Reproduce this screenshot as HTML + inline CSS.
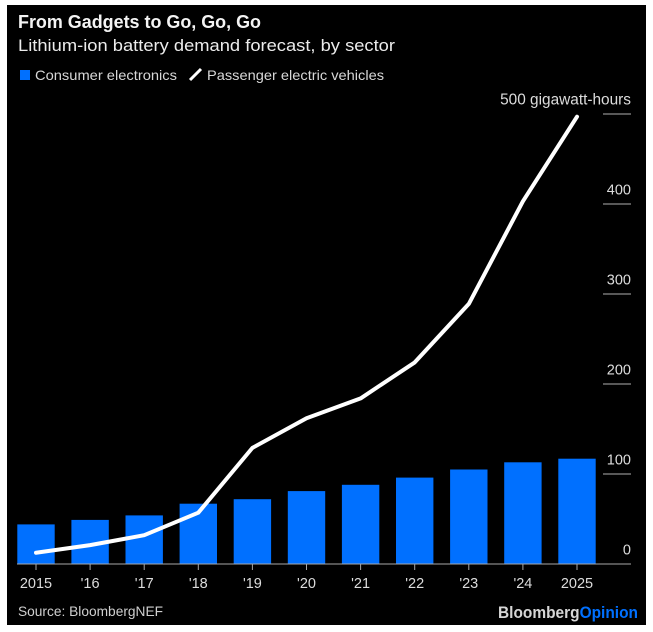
<!DOCTYPE html>
<html lang="en">
<head>
<meta charset="utf-8">
<title>From Gadgets to Go, Go, Go</title>
<style>
html,body{margin:0;padding:0;background:#fff;width:653px;height:632px;overflow:hidden}
svg{display:block;font-family:"Liberation Sans",Arial,sans-serif}
</style>
</head>
<body>
<svg id="chart" width="653" height="632" viewBox="0 0 653 632" xmlns="http://www.w3.org/2000/svg">
  <rect x="7" y="5" width="639" height="620" fill="#000"/>
  <text x="18" y="28" font-size="18" font-weight="700" fill="#f4f4f4" textLength="243" lengthAdjust="spacingAndGlyphs">From Gadgets to Go, Go, Go</text>
  <text x="18" y="51" font-size="17" fill="#ececec" textLength="377" lengthAdjust="spacingAndGlyphs">Lithium-ion battery demand forecast, by sector</text>
  <rect x="20" y="70" width="10" height="10" fill="#0070ff"/>
  <text x="35" y="80" font-size="14" fill="#d8d8d8" textLength="142" lengthAdjust="spacingAndGlyphs">Consumer electronics</text>
  <line x1="190" y1="80" x2="201" y2="69" stroke="#fff" stroke-width="3"/>
  <text x="207" y="80" font-size="14" fill="#d8d8d8" textLength="177" lengthAdjust="spacingAndGlyphs">Passenger electric vehicles</text>
  <g id="grid"></g>
  <g id="bars"></g>
  <g id="xaxis"></g>
  <path id="evline" fill="none" stroke="#fff" stroke-width="4" stroke-linejoin="round" stroke-linecap="round"/>
  <text x="18" y="616" font-size="14" fill="#cfcfcf" textLength="145" lengthAdjust="spacingAndGlyphs">Source: BloombergNEF</text>
  <text x="498" y="618" font-size="17" font-weight="700" textLength="140" lengthAdjust="spacingAndGlyphs"><tspan fill="#d6d6d6">Bloomberg</tspan><tspan fill="#0070ff">Opinion</tspan></text>
</svg>
<script>
const categories = ["2015","'16","'17","'18","'19","'20","'21","'22","'23","'24","2025"];
const consumerElectronics = [44,49,54,67,72,81,88,96,105,113,117];
const passengerEVs = [12.5,21,32,57,129,162,184,224,289,403,497];
const yTicks = [0,100,200,300,400,500];
const yTickLabels = ["0","100","200","300","400","500 gigawatt-hours"];

const NS = "http://www.w3.org/2000/svg";
const plot = {x0:36, step:54.1, baseY:564, pxPerUnit:0.9, barW:37.4, right:631, gridLeft:603};
function xScale(i){ return plot.x0 + i*plot.step; }
function yScale(v){ return plot.baseY - v*plot.pxPerUnit; }
function make(tag, attrs, parent){
  const el = document.createElementNS(NS, tag);
  for (const k in attrs) el.setAttribute(k, attrs[k]);
  parent.appendChild(el);
  return el;
}

const grid = document.getElementById("grid");
yTicks.forEach(function(t, i){
  if (t !== 0) {
    const gl = make("line", {x1:plot.gridLeft, x2:plot.right, y1:yScale(t), y2:yScale(t), stroke:"#b0b0b0", "stroke-width":1}, grid);
    
    
  }
  const lab = make("text", {x:plot.right, y:yScale(t)-9.5, "text-anchor":"end", "font-size":yTickLabels[i].length > 3 ? 15.4 : 14.5, fill:"#dcdcdc"}, grid);
  
  
  lab.textContent = yTickLabels[i];
});

const bars = document.getElementById("bars");
consumerElectronics.forEach(function(v, i){
  const r = make("rect", {x:xScale(i)-plot.barW/2, y:yScale(v), width:plot.barW, height:plot.baseY-yScale(v), fill:"#0070ff"}, bars);
  
  
});

const xaxis = document.getElementById("xaxis");
const axisLine = make("line", {x1:17, x2:plot.right, y1:plot.baseY, y2:plot.baseY, stroke:"#a8a8a8", "stroke-width":1}, xaxis);


categories.forEach(function(c, i){
  const tick = make("line", {x1:xScale(i), x2:xScale(i), y1:plot.baseY, y2:plot.baseY+6, stroke:"#a8a8a8", "stroke-width":1}, xaxis);
  
  
  const lab = make("text", {x:xScale(i), y:588, "text-anchor":"middle", "font-size":14.5, fill:"#dcdcdc"}, xaxis);
  
  
  lab.textContent = c;
});

document.getElementById("evline").setAttribute("d",
  passengerEVs.map(function(v, i){ return (i ? "L" : "M") + xScale(i) + " " + yScale(v); }).join(" "));
</script>
</body>
</html>
